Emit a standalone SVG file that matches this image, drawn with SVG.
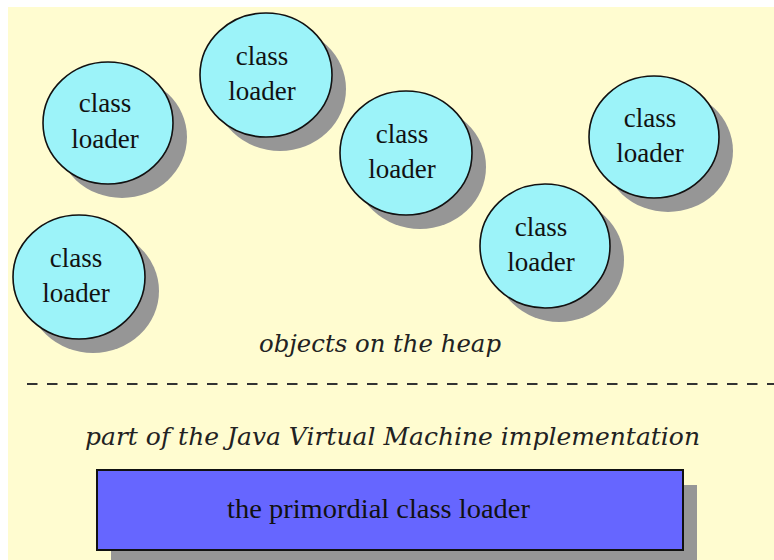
<svg xmlns="http://www.w3.org/2000/svg" width="774" height="560" viewBox="0 0 774 560">
<style>
.bg{fill:#FFFCD0}
.shadow{fill:#969696}
.circ{fill:#9CF3F9;stroke:#111;stroke-width:1.6}
.lbl{font-family:'Liberation Serif','Times New Roman',serif;font-size:27px;fill:#111;text-anchor:middle}
.ital{font-family:'DejaVu Serif','Liberation Serif',serif;font-style:italic;font-size:24px;fill:#222}
.box{fill:#6666FF;stroke:#111;stroke-width:2}
.dash{stroke:#333;stroke-width:2.2;stroke-dasharray:10.5 9.5;fill:none}
</style>
<rect x="0" y="0" width="774" height="560" fill="#FFFFFF"/>
<rect class="bg" x="8" y="7" width="766" height="553"/>

<g id="loader1">
<ellipse class="shadow" cx="122" cy="137" rx="65" ry="61"/>
<ellipse class="circ" cx="108" cy="123" rx="65" ry="61"/>
<text class="lbl" x="105" y="112">class</text>
<text class="lbl" x="105" y="148">loader</text>
</g>
<g id="loader2">
<ellipse class="shadow" cx="280" cy="89" rx="66" ry="62"/>
<ellipse class="circ" cx="266" cy="75" rx="66" ry="62"/>
<text class="lbl" x="262" y="65">class</text>
<text class="lbl" x="262" y="100">loader</text>
</g>
<g id="loader3">
<ellipse class="shadow" cx="93" cy="291" rx="66" ry="62"/>
<ellipse class="circ" cx="79" cy="277" rx="66" ry="62"/>
<text class="lbl" x="76" y="267">class</text>
<text class="lbl" x="76" y="302">loader</text>
</g>
<g id="loader4">
<ellipse class="shadow" cx="420" cy="167" rx="66" ry="62"/>
<ellipse class="circ" cx="406" cy="153" rx="66" ry="62"/>
<text class="lbl" x="402" y="143">class</text>
<text class="lbl" x="402" y="178">loader</text>
</g>
<g id="loader5">
<ellipse class="shadow" cx="559" cy="260" rx="65" ry="62"/>
<ellipse class="circ" cx="545" cy="246" rx="65" ry="62"/>
<text class="lbl" x="541" y="236">class</text>
<text class="lbl" x="541" y="271">loader</text>
</g>
<g id="loader6">
<ellipse class="shadow" cx="668" cy="151" rx="65" ry="61"/>
<ellipse class="circ" cx="654" cy="137" rx="65" ry="61"/>
<text class="lbl" x="650" y="127">class</text>
<text class="lbl" x="650" y="162">loader</text>
</g>

<g id="heap-label">
<text class="ital" x="259" y="352" textLength="242" lengthAdjust="spacingAndGlyphs">objects on the heap</text>
</g>

<g id="connectors">
<line class="dash" x1="27" y1="384" x2="774" y2="384"/>
</g>

<g id="jvm-label">
<text class="ital" x="85" y="445" textLength="615" lengthAdjust="spacingAndGlyphs">part of the Java Virtual Machine implementation</text>
</g>

<g id="primordial">
<rect class="shadow" x="111" y="485" width="586" height="80"/>
<rect class="box" x="97" y="470" width="586" height="80"/>
<text class="lbl" x="227" y="518" textLength="303" lengthAdjust="spacingAndGlyphs" style="text-anchor:start">the primordial class loader</text>
</g>
</svg>
